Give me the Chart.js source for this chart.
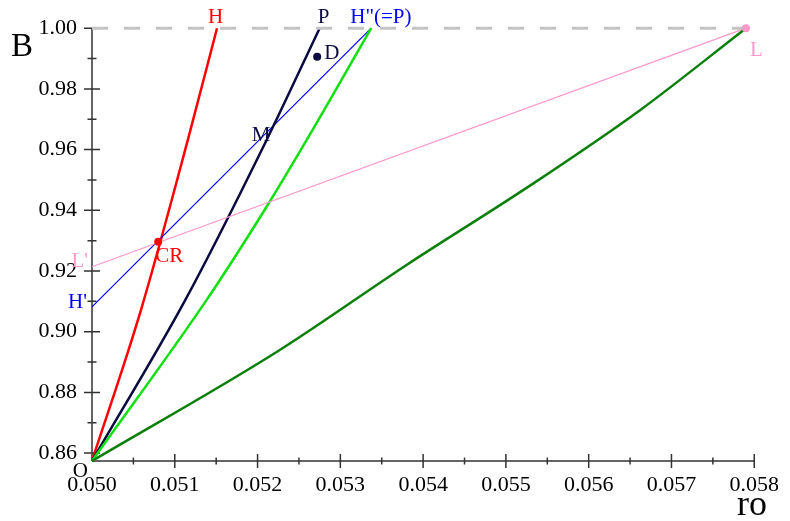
<!DOCTYPE html>
<html>
<head>
<meta charset="utf-8">
<script src="https://cdn.jsdelivr.net/npm/chart.js@4"></script>
<style>
  html, body { margin: 0; padding: 0; background: #fff; }
  canvas { display: block; }
</style>
</head>
<body>
<canvas id="chart" width="790" height="521"></canvas>
<script>
// axis ticks
const xTicks = [0.050, 0.051, 0.052, 0.053, 0.054, 0.055, 0.056, 0.057, 0.058];
const yTicks = [0.86, 0.88, 0.90, 0.92, 0.94, 0.96, 0.98, 1.00];
const xMin = 0.050, xMax = 0.058, yMin = 0.8574, yMax = 1.00;

// curve H (red)
const hX = [0.0500, 0.050591, 0.051157, 0.05151];
const hY = [0.8574, 0.9071, 0.9631, 1.0];
// curve P (navy)
const pX = [0.0500, 0.051126, 0.052108, 0.05275];
const pY = [0.8574, 0.9104, 0.9631, 1.0];
// curve H''(=P) (green)
const gX = [0.0500, 0.051383, 0.052096, 0.052592, 0.053373];
const gY = [0.8574, 0.9104, 0.9406, 0.9631, 1.0];
// curve to L (dark green)
const lX = [0.0500, 0.052235, 0.05380, 0.05530, 0.05662, 0.0579];
const lY = [0.8574, 0.8934, 0.9220, 0.9483, 0.9730, 1.0];
// straight line H' -> H'' (blue)
const blueX = [0.0500, 0.053373];
const blueY = [0.9082, 1.0];
// straight line L' -> L (pink)
const pinkX = [0.0500, 0.0579];
const pinkY = [0.9214, 1.0];
// B = 1 reference line
const refX = [0.0500, 0.0580];
const refY = [1.0, 1.0];
// marked points CR, D, L
const markNames = ['CR', 'D', 'L'];
const markX = [0.0508, 0.05272, 0.0579];
const markY = [0.9296, 0.9906, 1.0];

const pts = (xs, ys) => xs.map((x, i) => ({ x: x, y: ys[i] }));
const serif = '"Liberation Serif", "DejaVu Serif", serif';
const markColors = ['#ff0000', '#0a0a40', '#ff99cc'];

function line(xs, ys, color, width, curved) {
  return {
    data: pts(xs, ys),
    showLine: true,
    borderColor: color,
    borderWidth: width,
    pointRadius: 0,
    fill: false,
    clip: false,
    cubicInterpolationMode: curved ? 'monotone' : 'default',
    tension: 0
  };
}

const ref = line(refX, refY, '#c4c4c4', 3, false);
ref.borderDash = [16, 16];

// axes, tick marks and text labels
const annotate = {
  id: 'annotate',
  beforeDatasetsDraw(chart) {
    const c = chart.ctx, xs = chart.scales.x, ys = chart.scales.y;
    const x0 = xs.getPixelForValue(xMin), y0 = ys.getPixelForValue(yMin);
    const yTop = ys.getPixelForValue(yMax);
    c.save();
    c.strokeStyle = '#333';
    c.lineWidth = 1.5;
    c.beginPath();
    c.moveTo(x0, y0); c.lineTo(xs.getPixelForValue(xMax), y0);
    c.moveTo(x0, y0); c.lineTo(x0, yTop);
    xTicks.forEach((v, i) => {
      const px = xs.getPixelForValue(v);
      if (i > 0) { c.moveTo(px, y0 - 7); c.lineTo(px, y0 + 7); }
      if (i < xTicks.length - 1) {
        const mx = xs.getPixelForValue((v + xTicks[i + 1]) / 2);
        c.moveTo(mx, y0 - 3.5); c.lineTo(mx, y0 + 3.5);
      }
    });
    yTicks.forEach((v, i) => {
      const py = ys.getPixelForValue(v);
      c.moveTo(x0 - 8, py); c.lineTo(i < yTicks.length - 1 ? x0 + 8 : x0, py);
      if (i < yTicks.length - 1) {
        const my = ys.getPixelForValue((v + yTicks[i + 1]) / 2);
        c.moveTo(x0 - 4.5, my); c.lineTo(x0 + 4.5, my);
      }
    });
    c.stroke();
    c.restore();
  },
  afterDatasetsDraw(chart) {
    const c = chart.ctx, xs = chart.scales.x, ys = chart.scales.y;
    const X = v => xs.getPixelForValue(v), Y = v => ys.getPixelForValue(v);
    const text = (t, x, y, color, align, size) => {
      c.font = (size || 21) + 'px ' + serif;
      c.fillStyle = color;
      c.textAlign = align || 'left';
      c.textBaseline = 'alphabetic';
      c.fillText(t, x, y);
    };
    c.save();
    // filled dots for the marked points
    markX.forEach((v, i) => {
      c.beginPath();
      c.fillStyle = markColors[i];
      c.arc(X(v), Y(markY[i]), 4, 0, Math.PI * 2);
      c.fill();
    });
    text('H', X(hX[hX.length - 1]) - 1.5, Y(1.0) - 5, '#ff0000', 'center');
    text('P', X(pX[pX.length - 1]) + 4, Y(1.0) - 5, '#0a0a40', 'center');
    text('H"(=P)', X(gX[gX.length - 1]) - 21, Y(1.0) - 5, '#0000ff');
    text(markNames[1], X(markX[1]) + 7, Y(markY[1]) + 2, '#0a0a40');
    text('M', X(0.05211) - 15, Y(0.9641) + 4, '#0a0a40');
    text(markNames[0], X(markX[0]) - 3, Y(markY[0]) + 20, '#ff0000');
    text("L'", X(pinkX[0]) - 4, Y(pinkY[0]), '#ff99cc', 'right');
    text("H'", X(blueX[0]) - 5, Y(blueY[0]) + 1, '#0000ff', 'right');
    text(markNames[2], X(markX[2]) + 4, Y(markY[2]) + 28, '#ff99cc');
    text('O', X(xMin) - 4, Y(yMin) + 16, '#000', 'right');
    text('B', 11, 56, '#000', 'left', 33);
    text('ro', 752, 515, '#000', 'center', 36);
    c.restore();
  }
};

new Chart(document.getElementById('chart').getContext('2d'), {
  type: 'scatter',
  data: {
    datasets: [
      ref,
      line(lX, lY, '#0a7f0a', 2.5, true),
      line(pinkX, pinkY, '#ff99cc', 1.3, false),
      line(gX, gY, '#11e011', 2.5, true),
      line(pX, pY, '#0a0a40', 2.5, true),
      line(blueX, blueY, '#0000ff', 1.2, false),
      line(hX, hY, '#ff0000', 2.5, true)
    ]
  },
  options: {
    responsive: false,
    animation: false,
    layout: { padding: { top: 28, right: 25, left: 0, bottom: 0 } },
    plugins: { legend: { display: false }, tooltip: { enabled: false } },
    scales: {
      x: {
        type: 'linear', min: xMin, max: xMax,
        afterBuildTicks: s => { s.ticks = xTicks.map(v => ({ value: v })); },
        afterFit: s => { s.height = 60; },
        grid: { display: false, drawTicks: false },
        border: { display: false },
        ticks: {
          color: '#000', padding: 11, autoSkip: false, maxRotation: 0,
          font: { family: serif, size: 22 },
          callback: v => Number(v).toFixed(3)
        }
      },
      y: {
        type: 'linear', min: yMin, max: yMax,
        afterBuildTicks: s => { s.ticks = yTicks.map(v => ({ value: v })); },
        afterFit: s => { s.width = 92; },
        grid: { display: false, drawTicks: false },
        border: { display: false },
        ticks: {
          color: '#000', padding: 15, autoSkip: false,
          font: { family: serif, size: 22 },
          callback: v => Number(v).toFixed(2)
        }
      }
    }
  },
  plugins: [annotate]
});
</script>
</body>
</html>
